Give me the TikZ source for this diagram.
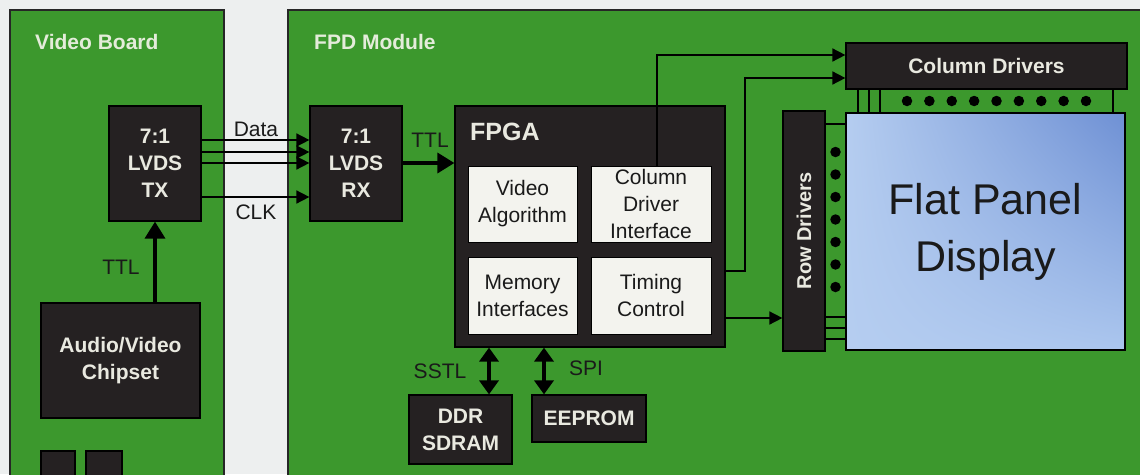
\documentclass[tikz,border=0pt]{standalone}
\usepackage{fontspec}
\setmainfont{Liberation Sans}
\usetikzlibrary{arrows.meta,calc,shadings}
\definecolor{bgc}{HTML}{EDEFEF}
\definecolor{board}{HTML}{3C982D}
\definecolor{dark}{HTML}{252122}
\definecolor{boxtxt}{HTML}{E9E9E0}
\definecolor{inner}{HTML}{F3F3EE}
\definecolor{lbl}{HTML}{1A1A1A}
\definecolor{titlec}{HTML}{E4ECDA}
\definecolor{panA}{HTML}{B5CDF0}
\definecolor{panC}{HTML}{ABC6EE}
\definecolor{panB}{HTML}{6E90D4}
\begin{document}
\begin{tikzpicture}[x=1pt,y=-1pt,
  boardbox/.style={draw=black!85, line width=1.5pt, fill=board, inner sep=0pt},
  boardtitle/.style={text=titlec, font=\fontsize{21}{25}\selectfont\bfseries, anchor=west, inner sep=0pt},
  darkbox/.style={draw=black, line width=1.2pt, fill=dark, text=boxtxt, font=\fontsize{21}{27}\selectfont\bfseries, align=center, inner sep=0pt},
  innerbox/.style={draw=black, line width=1pt, fill=inner, text=lbl, font=\fontsize{21}{27}\selectfont, align=center, inner sep=0pt, minimum width=109, minimum height=76},
  lab/.style={text=lbl, font=\fontsize{21}{25}\selectfont, inner sep=0pt},
  thin/.style={draw=black, line width=1.6pt},
  thinarrow/.style={thin, -{Triangle[length=13pt,width=13pt]}},
  thickarrow/.style={draw=black, line width=3.5pt, -{Triangle[length=17pt,width=20pt]}},
  dblarrow/.style={draw=black, line width=3.5pt, {Triangle[length=14pt,width=19pt]}-{Triangle[length=14pt,width=19pt]}},
  dot/.style={circle, fill=black, inner sep=0pt, minimum size=10.5pt}
]
\useasboundingbox (0,0) rectangle (1140,474);
\fill[bgc] (0,0) rectangle (1140,474);
\clip (0,0) rectangle (1140,474);

% boards
\node[boardbox, minimum width=214, minimum height=490, anchor=north west] (vb) at (9,9) {};
\node[boardbox, minimum width=870, minimum height=490, anchor=north west] (fpd) at (287,9) {};
\node[boardtitle] (vbt) at (35,42) {Video Board};
\node[boardtitle] (fpdt) at (314,42) {FPD Module};

% video board blocks
\node[darkbox, minimum width=92, minimum height=115] (tx) at (155,163.5) {7:1\\LVDS\\TX};
\node[darkbox, minimum width=159, minimum height=115] (chip) at (120.5,360.5) {Audio/Video\\Chipset};
\node[darkbox, minimum width=34, minimum height=40] (sb1) at (58,471) {};
\node[darkbox, minimum width=36, minimum height=40] (sb2) at (104,471) {};

% FPD blocks
\node[darkbox, minimum width=92, minimum height=115] (rx) at (356,163.5) {7:1\\LVDS\\RX};
\node[darkbox, minimum width=270, minimum height=241] (fpga) at (590,226.5) {};
\node[text=boxtxt, font=\fontsize{25}{28}\selectfont\bfseries, anchor=west, inner sep=0pt] (fpgat) at (470,132) {FPGA};
\node[innerbox] (va) at (522.5,204) {Video\\Algorithm};
\node[innerbox, minimum width=120] (cdi) at (651,204) {Column\\Driver\\Interface};
\node[innerbox, minimum height=77] (mi) at (522.5,295.5) {Memory\\Interfaces};
\node[innerbox, minimum width=120, minimum height=77] (tc) at (651,295.5) {Timing\\Control};
\node[darkbox, minimum width=103, minimum height=69] (ddr) at (460.5,429.5) {DDR\\SDRAM};
\node[darkbox, minimum width=114, minimum height=47] (eep) at (589,418.5) {EEPROM};

\node[darkbox, minimum width=281, minimum height=46] (coldrv) at (986.5,66) {Column Drivers};
\node[darkbox, minimum width=42, minimum height=240] (rowdrv) at (804,231) {};
\node[rotate=90, text=boxtxt, font=\fontsize{20}{24}\selectfont\bfseries, inner sep=0pt] (rowt) at (rowdrv.center) {Row Drivers};

% panel
\node[draw=black, line width=1.5pt, minimum width=279, minimum height=237, inner sep=0pt,
      upper left=panA, upper right=panB, lower left=panA, lower right=panC,
      text=lbl, font=\fontsize{43}{57}\selectfont, align=center] (panel) at (985.5,231.5) {Flat Panel\\Display};

% driver-to-panel wiring
\foreach \xx in {858,869,880,1113} {
  \draw[thin] (coldrv.south -| \xx,0) -- (panel.north -| \xx,0);
}
\foreach \yy in {124,317,328,339} {
  \draw[thin] (rowdrv.east |- 0,\yy) -- (panel.west |- 0,\yy);
}

% dots
\foreach \i in {0,...,8} {
  \node[dot] (cd\i) at (907+\i*22.375,101) {};
}
\foreach \i in {0,...,6} {
  \node[dot] (rd\i) at (835.5,152+\i*22.5) {};
}

% connectors
\draw[thickarrow] (tx.south |- chip.north) -- (tx.south);
\node[lab] (lttl1) at (121,267) {TTL};

\foreach \yy in {140,152,163} {
  \draw[thinarrow] (tx.east |- 0,\yy) -- (rx.west |- 0,\yy);
}
\draw[thinarrow] (tx.east |- 0,197) -- (rx.west |- 0,197);
\node[lab] (ldata) at (256,129) {Data};
\node[lab] (lclk) at (256,212) {CLK};

\draw[thickarrow] (rx.east |- 0,163) -- (fpga.west |- 0,163);
\node[lab] (lttl2) at (430,140) {TTL};

\draw[thinarrow] ($(cdi.north)+(6,0)$) |- (coldrv.west |- 0,55);
\draw[thinarrow] (fpga.east |- 0,271) -- (745,271) |- (coldrv.west |- 0,78);
\draw[thinarrow] (fpga.east |- 0,318) -- (rowdrv.west |- 0,318);

\draw[dblarrow] (fpga.south -| 489,0) -- (ddr.north -| 489,0);
\draw[dblarrow] (fpga.south -| 544,0) -- (eep.north -| 544,0);
\node[lab] (lsstl) at (440,371) {SSTL};
\node[lab] (lspi) at (586,368) {SPI};
\end{tikzpicture}
\end{document}
